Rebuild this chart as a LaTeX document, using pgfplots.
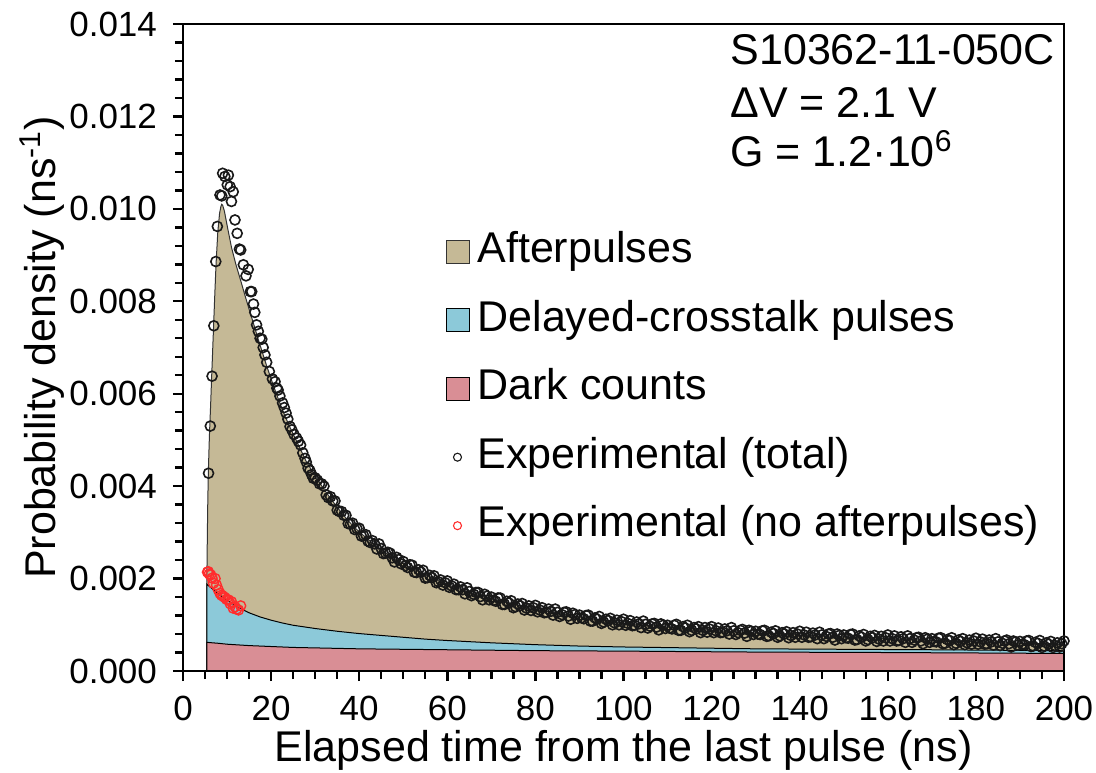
\documentclass[border=0pt]{standalone}
\usepackage{fontspec}
\setmainfont{Liberation Sans}
\usepackage{pgfplots}
\pgfplotsset{compat=1.18}
\definecolor{ctan}{RGB}{197,185,150}
\definecolor{cblue}{RGB}{140,201,217}
\definecolor{cpink}{RGB}{217,142,149}
\definecolor{cred}{RGB}{255,45,45}
\pgfplotsset{
  sqlegend/.style={legend image code/.code={\draw[##1] (0pt,-5.75pt) rectangle (11.5pt,5.75pt);}},
  mklegend/.style={legend image code/.code={\draw[##1, mark size=2pt, line width=0.55pt] plot coordinates {(5.75pt,0pt)};}},
}
\begin{document}
\begin{tikzpicture}
\begin{axis}[
  scale only axis, width=440.5pt, height=323.5pt,
  xmin=0, xmax=200, ymin=0, ymax=0.014,
  xtick={0,20,40,60,80,100,120,140,160,180,200},
  ytick={0,0.002,0.004,0.006,0.008,0.010,0.012,0.014},
  minor x tick num=3, minor y tick num=4,
  tick align=outside, xtick pos=bottom, ytick pos=left,
  major tick length=5pt, minor tick length=4pt,
  every tick/.style={black, line width=1.2pt},
  axis line style={line width=1.3pt},
  axis on top,
  scaled y ticks=false,
  /pgf/number format/assume math mode=true,
  yticklabel style={/pgf/number format/.cd, fixed, fixed zerofill, precision=3, /tikz/.cd, font=\fontsize{17.5}{21}\selectfont, xshift=-4.5pt},
  xticklabel style={font=\fontsize{17.5}{21}\selectfont, yshift=-4pt},
  xlabel={Elapsed time from the last pulse (ns)},
  ylabel={Probability density (ns\textsuperscript{-1})},
  label style={font=\fontsize{21.5}{25}\selectfont},
  xlabel style={at={(axis description cs:0.5,-0.1402)}, anchor=base},
  ylabel style={at={(axis description cs:-0.1442,0.5)}, anchor=base},
  legend style={at={(axis cs:59.5,0.009623)}, anchor=north west, draw=none, fill=none,
    font=\fontsize{21.5}{25}\selectfont, inner sep=0pt, row sep=9.25pt, column sep=2pt,
    nodes={inner sep=2pt, text height=16pt, text depth=5pt}},
  legend cell align=left,
]
\coordinate (O) at (rel axis cs:0,0);
\addplot[fill=ctan, draw=black!80, line width=0.5pt, sqlegend]
coordinates {(5.4,0) (5.4,0.00188) (5.5,0.0027) (5.6,0.0035) (5.75,0.0043) (6,0.0051) (6.25,0.0057) (6.5,0.00635) (6.88,0.0073) (7.2,0.0081) (7.5,0.0088) (7.9,0.0095) (8.3,0.0099) (8.6,0.01005) (8.8,0.0101) (9,0.01008) (9.4,0.00995) (10,0.00965) (11,0.00917) (12,0.0088) (13,0.00848) (14,0.00815) (15,0.00783) (16,0.00752) (17,0.0072) (18,0.0069) (19,0.0066) (20,0.00632) (21,0.00605) (22,0.00579) (23,0.00555) (24.3,0.00527) (26,0.00493) (28,0.00453) (30,0.00422) (32,0.00393) (34,0.00367) (36,0.00342) (38,0.0032) (40,0.00301) (43,0.00277) (47,0.00249) (51,0.00227) (55,0.00208) (60,0.00187) (65,0.0017) (70,0.00156) (75,0.00144) (80,0.00134) (85,0.00125) (90,0.00117) (95,0.0011) (100,0.00104) (110,0.00095) (120,0.00088) (130,0.00082) (140,0.00078) (150,0.00074) (160,0.0007) (170,0.00066) (180,0.00063) (190,0.0006) (200,0.00057) (200,0)} -- cycle;
\addlegendentry{Afterpulses}
\addplot[fill=cblue, draw=black, line width=0.5pt, sqlegend]
coordinates {(5.4,0) (5.4,0.00188) (6,0.00183) (7,0.00175) (8,0.00167) (9,0.0016) (10,0.00153) (11,0.00147) (12,0.00141) (13.5,0.00133) (15,0.00126) (17.5,0.00117) (20,0.0011) (22.5,0.00104) (25,0.00099) (30,0.00092) (35,0.00086) (40,0.00081) (45,0.00077) (50,0.00073) (55,0.00069) (60,0.00066) (70,0.00061) (80,0.00057) (90,0.00054) (100,0.00052) (115,0.0005) (130,0.00048) (150,0.00047) (170,0.00046) (200,0.00044) (200,0)} -- cycle;
\addlegendentry{Delayed-crosstalk pulses}
\addplot[fill=cpink, draw=black, line width=0.5pt, sqlegend]
coordinates {(5.4,0) (5.4,0.00062) (8,0.0006) (10,0.00058) (15,0.00055) (20,0.00053) (25,0.00051) (30,0.0005) (40,0.00048) (50,0.00047) (60,0.00046) (80,0.00044) (100,0.00043) (130,0.00041) (160,0.0004) (200,0.00038) (200,0)} -- cycle;
\addlegendentry{Dark counts}
\addplot[only marks, mark=o, mark size=2.5pt, black!90, line width=0.8pt, mklegend]
coordinates {(5.8,0.00428) (6.2,0.0053) (6.6,0.00638) (7,0.00747) (7.45,0.00886) (7.8,0.00962) (8.4,0.0103) (8.8,0.01028) (9,0.01077) (9.5,0.0107) (10.05,0.01052) (10.3,0.01073) (10.7,0.01048) (11,0.01016) (11.4,0.01037) (11.8,0.00976) (12.3,0.00947) (12.8,0.00913) (13.1,0.00911) (13.7,0.00879) (14.3,0.00855) (14.8,0.00869) (15.3,0.00821) (15.6,0.00821) (16,0.00794) (16.3,0.00776) (16.7,0.00749) (17.1,0.00735) (17.5,0.0072) (17.9,0.00718) (18.2,0.007) (18.6,0.00684) (19,0.00668) (19.6,0.00648) (20.3,0.00632) (20.9,0.00626) (21.3,0.00612) (21.6,0.00608) (22,0.00595) (22.6,0.0058) (23,0.0057) (23.4,0.00558) (23.8,0.00545) (24.3,0.00529) (24.7,0.00522) (25.2,0.00512) (25.8,0.00504) (26.2,0.00497) (26.7,0.00489) (27.2,0.00472) (27.7,0.0046) (28,0.00452) (28.4,0.00439) (28.8,0.00434) (29.2,0.00425) (29.6,0.00417)
(30,0.00418) (30.5,0.00413) (31,0.00405) (31.5,0.00405) (32,0.004) (32.5,0.00381) (33,0.00375) (33.5,0.00377) (34,0.00368) (34.5,0.00368) (35,0.00348) (35.5,0.00345) (36,0.00345) (36.5,0.00337) (37,0.00337) (37.5,0.00319) (38,0.00318) (38.5,0.0032) (39,0.00306) (39.5,0.00308) (40,0.00309) (40.5,0.00292) (41,0.00293) (41.5,0.00295) (42,0.00281) (42.5,0.00278) (43,0.00282) (43.5,0.00275) (44,0.00264) (44.5,0.00275) (45,0.00265) (45.5,0.00254) (46,0.00255) (46.5,0.00257) (47,0.00255) (47.5,0.00245) (48,0.00236) (48.5,0.00246) (49,0.00241) (49.5,0.00232)
(50,0.00237) (50.5,0.00228) (51,0.00224) (51.5,0.0023) (52,0.00229) (52.5,0.00214) (53,0.00213) (53.5,0.00219) (54,0.00214) (54.5,0.00218) (55,0.00201) (55.5,0.00202) (56,0.00207) (56.5,0.00202) (57,0.00206) (57.5,0.00191) (58,0.00193) (58.5,0.00197) (59,0.00186) (59.5,0.00191) (60,0.00195) (60.5,0.00181) (61,0.00184) (61.5,0.00188) (62,0.00176) (62.5,0.00176) (63,0.00182) (63.5,0.00176) (64,0.00167) (64.5,0.0018) (65,0.00172) (65.5,0.00163) (66,0.00166) (66.5,0.0017) (67,0.0017) (67.5,0.00161) (68,0.00154) (68.5,0.00166) (69,0.00162) (69.5,0.00154)
(70,0.0016) (70.5,0.00153) (71,0.00151) (71.5,0.00158) (72,0.00158) (72.5,0.00144) (73,0.00144) (73.5,0.00151) (74,0.00147) (74.5,0.00152) (75,0.00137) (75.5,0.00139) (76,0.00145) (76.5,0.00141) (77,0.00146) (77.5,0.00132) (78,0.00136) (78.5,0.00141) (79,0.00131) (79.5,0.00137) (80,0.00142) (80.5,0.00128) (81,0.00132) (81.5,0.00137) (82,0.00126) (82.5,0.00127) (83,0.00134) (83.5,0.00129) (84,0.00121) (84.5,0.00134) (85,0.00127) (85.5,0.00118) (86,0.00122) (86.5,0.00127) (87,0.00128) (87.5,0.00119) (88,0.00112) (88.5,0.00125) (89,0.00122) (89.5,0.00114)
(90,0.00121) (90.5,0.00115) (91,0.00113) (91.5,0.0012) (92,0.00121) (92.5,0.00108) (93,0.00108) (93.5,0.00115) (94,0.00112) (94.5,0.00118) (95,0.00103) (95.5,0.00106) (96,0.00112) (96.5,0.00109) (97,0.00114) (97.5,0.001) (98,0.00104) (98.5,0.0011) (99,0.001) (99.5,0.00107) (100,0.00112) (100.5,0.00099) (101,0.00103) (101.5,0.00109) (102,0.00098) (102.5,0.00099) (103,0.00106) (103.5,0.00102) (104,0.00094) (104.5,0.00108) (105,0.00101) (105.5,0.00093) (106,0.00097) (106.5,0.00102) (107,0.00103) (107.5,0.00095) (108,0.00089) (108.5,0.00102) (109,0.00099) (109.5,0.00092)
(110,0.00099) (110.5,0.00093) (111,0.00091) (111.5,0.00099) (112,0.00101) (112.5,0.00088) (113,0.00088) (113.5,0.00096) (114,0.00093) (114.5,0.00099) (115,0.00085) (115.5,0.00088) (116,0.00094) (116.5,0.00091) (117,0.00096) (117.5,0.00083) (118,0.00088) (118.5,0.00094) (119,0.00084) (119.5,0.00091) (120,0.00096) (120.5,0.00083) (121,0.00087) (121.5,0.00093) (122,0.00083) (122.5,0.00084) (123,0.00091) (123.5,0.00087) (124,0.0008) (124.5,0.00094) (125,0.00087) (125.5,0.00079) (126,0.00083) (126.5,0.00088) (127,0.0009) (127.5,0.00082) (128,0.00075) (128.5,0.00088) (129,0.00086) (129.5,0.00079)
(130,0.00086) (130.5,0.0008) (131,0.00079) (131.5,0.00087) (132,0.00088) (132.5,0.00075) (133,0.00076) (133.5,0.00084) (134,0.00081) (134.5,0.00087) (135,0.00073) (135.5,0.00076) (136,0.00083) (136.5,0.0008) (137,0.00085) (137.5,0.00072) (138,0.00077) (138.5,0.00083) (139,0.00073) (139.5,0.0008) (140,0.00086) (140.5,0.00073) (141,0.00078) (141.5,0.00084) (142,0.00073) (142.5,0.00074) (143,0.00082) (143.5,0.00078) (144,0.0007) (144.5,0.00084) (145,0.00078) (145.5,0.0007) (146,0.00075) (146.5,0.0008) (147,0.00081) (147.5,0.00073) (148,0.00067) (148.5,0.0008) (149,0.00077) (149.5,0.0007)
(150,0.00078) (150.5,0.00072) (151,0.00071) (151.5,0.00079) (152,0.0008) (152.5,0.00067) (153,0.00068) (153.5,0.00076) (154,0.00073) (154.5,0.00079) (155,0.00065) (155.5,0.00068) (156,0.00075) (156.5,0.00072) (157,0.00077) (157.5,0.00064) (158,0.00069) (158.5,0.00075) (159,0.00065) (159.5,0.00072) (160,0.00078) (160.5,0.00065) (161,0.0007) (161.5,0.00076) (162,0.00065) (162.5,0.00066) (163,0.00074) (163.5,0.0007) (164,0.00062) (164.5,0.00076) (165,0.0007) (165.5,0.00062) (166,0.00067) (166.5,0.00072) (167,0.00073) (167.5,0.00065) (168,0.00059) (168.5,0.00072) (169,0.00069) (169.5,0.00062)
(170,0.0007) (170.5,0.00064) (171,0.00063) (171.5,0.00071) (172,0.00072) (172.5,0.00059) (173,0.0006) (173.5,0.00068) (174,0.00066) (174.5,0.00072) (175,0.00057) (175.5,0.0006) (176,0.00067) (176.5,0.00064) (177,0.0007) (177.5,0.00057) (178,0.00061) (178.5,0.00067) (179,0.00058) (179.5,0.00065) (180,0.00071) (180.5,0.00058) (181,0.00063) (181.5,0.00069) (182,0.00058) (182.5,0.00059) (183,0.00067) (183.5,0.00063) (184,0.00056) (184.5,0.0007) (185,0.00063) (185.5,0.00055) (186,0.0006) (186.5,0.00065) (187,0.00067) (187.5,0.00059) (188,0.00052) (188.5,0.00065) (189,0.00063) (189.5,0.00056)
(190,0.00064) (190.5,0.00058) (191,0.00057) (191.5,0.00065) (192,0.00066) (192.5,0.00053) (193,0.00054) (193.5,0.00062) (194,0.0006) (194.5,0.00066) (195,0.00051) (195.5,0.00054) (196,0.00061) (196.5,0.00058) (197,0.00064) (197.5,0.00051) (198,0.00055) (198.5,0.00061) (199,0.00052) (199.5,0.00059) (200,0.00065)};
\addlegendentry{Experimental (total)}
\addplot[only marks, mark=o, mark size=2.5pt, cred, line width=0.7pt, mklegend]
coordinates {(5.55,0.00214) (5.75,0.00215) (5.95,0.0021) (6.3,0.00208) (6.6,0.00201) (6.9,0.0019) (7.3,0.002) (7.6,0.00186) (8,0.00176) (8.4,0.00168) (8.75,0.00164) (9.1,0.00162) (9.5,0.00159) (9.9,0.00155) (10.3,0.00154) (10.7,0.00146) (11,0.0015) (11.4,0.00136) (11.8,0.00139) (12.2,0.00134) (12.6,0.00132) (13.1,0.00141)};
\addlegendentry{Experimental (no afterpulses)}
\node[anchor=base west, inner sep=0pt, font=\fontsize{21.5}{25}\selectfont] at (axis cs:124.2,0.013114) {S10362-11-050C};
\node[anchor=base west, inner sep=0pt, font=\fontsize{21.5}{25}\selectfont] at (axis cs:124.2,0.011967) {ΔV = 2.1 V};
\node[anchor=base west, inner sep=0pt, font=\fontsize{21.5}{25}\selectfont] at (axis cs:124.2,0.010907) {G = 1.2·10\textsuperscript{6}};
\end{axis}
\pgfresetboundingbox
\path[use as bounding box] (O) ++(-91.5pt,-50.5pt) rectangle ++(548pt,386pt);
\end{tikzpicture}
\end{document}
